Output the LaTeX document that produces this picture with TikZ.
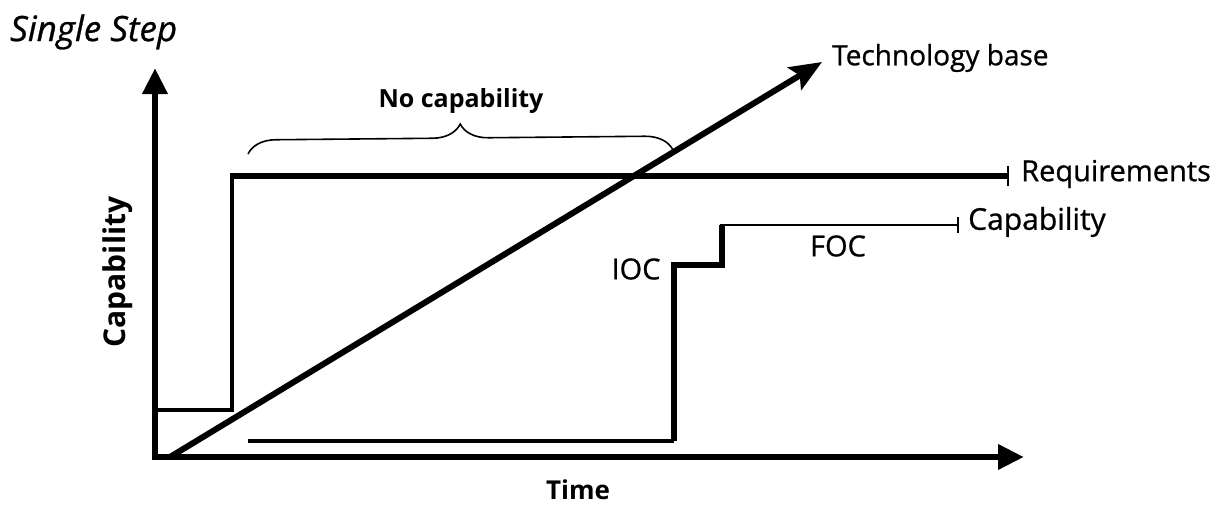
\documentclass[tikz,border=0pt]{standalone}
\usepackage{fontspec}
\setmainfont{Open Sans}
\newfontfamily\labelfont{Open Sans}[FakeBold=0.8]
\usetikzlibrary{arrows.meta,decorations.pathreplacing,calc}
\begin{document}
\begin{tikzpicture}[x=1pt,y=-1pt,
  axis/.style={line width=6.5pt,-{Triangle[length=26pt,width=24pt]}},
  thick line/.style={line width=6pt},
  mid line/.style={line width=4pt},
  thin line/.style={line width=2pt},
  label/.style={font=\labelfont\fontsize{29}{34}\selectfont, inner sep=0pt},
  boldlabel/.style={font=\fontsize{26}{30}\selectfont\bfseries, inner sep=0pt},
  tick/.style={line width=2pt}
]
\useasboundingbox (0,0) rectangle (1231,506);

% axes
\coordinate (O) at (155,457);
\coordinate (ytop) at (155,68);
\coordinate (xend) at (1024,457);
\draw[axis] (155,460) -- (ytop);
\draw[axis] (152,457) -- (xend);

% requirements line
\coordinate (r0) at (155,410);
\coordinate (r1) at (232,410);
\coordinate (r2) at (232,176);
\coordinate (r3) at (1008,176);
\draw[mid line,line join=miter] (r0) -- (r1) -- (232,174);
\draw[thick line] (230,176) -- (r3);
\draw[tick] ($(r3)+(0,-10)$) -- ($(r3)+(0,10)$);

% capability steps
\coordinate (c0) at (248,441);
\coordinate (c1) at (674,441);
\coordinate (c2) at (674,265);
\coordinate (c3) at (722,265);
\coordinate (c4) at (722,225);
\coordinate (c5) at (958,225);
\draw[mid line,line join=miter] (c0) -- (c1);
\draw[line width=5.5pt,line join=miter] (c1) -- (c2) -- (c3) -- (c4);
\draw[thin line] (720,225) -- (c5);
\draw[tick] ($(c5)+(0,-8)$) -- ($(c5)+(0,8)$);

% technology base
\coordinate (t0) at (170,457);
\coordinate (t1) at (822,62);
\draw[line width=6pt,-{Stealth[length=32pt,width=26pt,inset=6pt]}] (t0) -- (t1);

% brace over the gap
\draw[line width=1.6pt,decorate,decoration={brace,amplitude=28pt,aspect=0.5}]
  (248,154) -- (673,150);

% texts
\node[font=\labelfont\fontsize{35}{40}\selectfont\itshape, anchor=west, inner sep=0pt] (title) at (10,32) {Single Step};
\node[label, font=\labelfont\fontsize{28}{33}\selectfont, anchor=west] (tech) at (832,58) {Technology base};
\node[label, anchor=west] (req) at (1021,174) {Requirements};
\node[label, font=\labelfont\fontsize{30}{35}\selectfont, anchor=west] (cap) at (968,222) {Capability};
\node[label] (ioc) at (636,269) {IOC};
\node[label] (foc) at (838,246) {FOC};
\node[font=\fontsize{25}{30}\selectfont\bfseries, inner sep=0pt] (nocap) at (461,101) {No capability};
\node[boldlabel, font=\fontsize{30}{35}\selectfont\bfseries, rotate=90] (ylab) at (118,272) {Capability};
\node[boldlabel] (xlab) at (578,490) {Time};
\end{tikzpicture}
\end{document}
